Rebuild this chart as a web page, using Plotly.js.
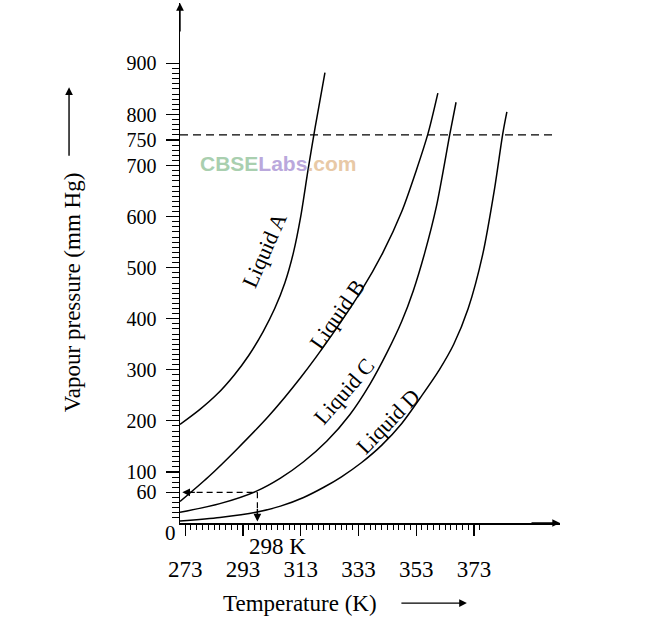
<!DOCTYPE html>
<html><head><meta charset="utf-8">
<script src="https://cdn.plot.ly/plotly-3.0.1.min.js"></script>
<style>html,body{margin:0;padding:0;background:#fff}#chart{width:666px;height:623px}</style>
</head><body><div id="chart"></div>
<script>
// Data
const tempA  = [271.2, 278, 284, 290, 295, 300, 304, 307.5, 310.5, 313, 315.5, 318, 321.4];
const pressA = [193, 222, 252, 290, 328, 375, 420, 470, 530, 600, 690, 775, 882];
const tempB  = [271.2, 281, 291, 302, 313, 324, 334, 341.5, 348, 353, 357.1, 360.5];
const pressB = [42, 90, 145, 210, 285, 370, 455, 530, 610, 690, 763, 842];
const tempC  = [271.2, 285, 297.5, 306, 314, 322, 330, 337, 343, 348, 352, 356, 360, 364.7, 366.8];
const pressC = [21, 38, 62, 88, 120, 160, 212, 272, 335, 395, 455, 530, 620, 763, 824];
const tempD  = [271.2, 285, 297.5, 306, 314, 321, 327, 334, 341, 348, 355, 361, 366, 371, 376, 380, 383, 384.4];
const pressD = [4, 11, 21, 33, 50, 70, 90, 118, 152, 195, 250, 300, 350, 420, 525, 650, 763, 805];

const liquidNames = ['Liquid A', 'Liquid B', 'Liquid C', 'Liquid D'];
const labelTemp   = [300.6, 325.6, 328.0, 343.2];
const labelPress  = [535, 408, 257, 199];
const labelAngle  = [-66, -55, -49, -46];

const yTickVals = [60, 100, 200, 300, 400, 500, 600, 700, 750, 800, 900];
const xTickVals = [273, 293, 313, 333, 353, 373];
const atmPressure = 760;
const markTemp = 298;
const markPress = 60;

const xRange = [271.2, 402.8];
const yRange = [0, 1018.4];

const serif = 'Liberation Serif, Times New Roman, serif';

const yMinor = [];
for (let v = 10; v <= 900; v += 10) if (v % 100 !== 0) yMinor.push(v);
const xMinor = [];
for (let v = 273; v <= 375; v += 2) if ((v - 273) % 20 !== 0) xMinor.push(v);

const lineStyle = {color: '#000', width: 1.5, shape: 'spline', smoothing: 0.8};
const series = [[tempA, pressA], [tempB, pressB], [tempC, pressC], [tempD, pressD]];
const traces = series.map((s, i) => ({
  x: s[0], y: s[1], type: 'scatter', mode: 'lines', name: liquidNames[i],
  line: lineStyle, hoverinfo: 'skip'
}));

const annotations = liquidNames.map((n, i) => ({
  x: labelTemp[i], y: labelPress[i], xref: 'x', yref: 'y', text: n,
  xanchor: 'center', yanchor: 'middle',
  showarrow: false, textangle: labelAngle[i],
  font: {family: serif, size: 22, color: '#000'}
}));

function arrow(x, y, ax, ay, xref, yref) {
  return {x: x, y: y, xref: xref, yref: yref, ax: ax, ay: ay, text: '',
    showarrow: true, arrowhead: 2, arrowsize: 1.1, arrowwidth: 1.4,
    arrowcolor: '#000', standoff: 0, startstandoff: 0};
}
function label(x, y, xref, yref, text, size, angle) {
  return {x: x, y: y, xref: xref, yref: yref, text: text, showarrow: false,
    xanchor: 'center', yanchor: 'middle', textangle: angle || 0,
    font: {family: serif, size: size, color: '#000'}};
}
// axis arrows
annotations.push(arrow(0, 1, 0, 30, 'paper', 'paper'));
annotations.push(arrow(1, 0, -30, 0, 'paper', 'paper'));
// 298 K / 60 mm Hg marker arrows
annotations.push(arrow(272.0, markPress, 14, 0, 'x', 'y'));
annotations.push(arrow(markTemp, 3, 0, -14, 'x', 'y'));
// axis title arrows
annotations.push(arrow(0.755, -0.154, -67, 0, 'paper', 'paper'));
annotations.push(arrow(-0.292, 0.838, 0, 70, 'paper', 'paper'));

annotations.push(label(305.1, -0.046, 'x', 'paper', markTemp + ' K', 23));
annotations.push(label(-0.024, -0.019, 'paper', 'paper', '0', 21));
annotations.push(label(0.316, -0.154, 'paper', 'paper', 'Temperature (K)', 23));
annotations.push(label(-0.284, 0.444, 'paper', 'paper', 'Vapour pressure (mm Hg)', 23, -90));
annotations.push({x: 0.258, y: 0.692, xref: 'paper', yref: 'paper', xanchor: 'center', yanchor: 'middle',
  text: '<b><span style="color:#a9cfaf">CBSE</span><span style="color:#baa8dc">Labs</span><span style="color:#e8c9a6">.com</span></b>',
  showarrow: false, font: {family: 'Liberation Sans, Arial, sans-serif', size: 21}});

const shapes = [
  {type: 'line', xref: 'x', yref: 'y', x0: xRange[0], x1: 401.7, y0: atmPressure, y1: atmPressure,
   line: {color: '#000', width: 1.3, dash: '8px,5px'}},
  {type: 'line', xref: 'x', yref: 'y', x0: 273.5, x1: markTemp, y0: markPress, y1: markPress,
   line: {color: '#000', width: 1.2, dash: '6px,4px'}},
  {type: 'line', xref: 'x', yref: 'y', x0: markTemp, x1: markTemp, y0: markPress, y1: 6,
   line: {color: '#000', width: 1.2, dash: '6px,4px'}}
];

const layout = {
  width: 666, height: 623,
  margin: {l: 180, r: 106, t: 3, b: 100},
  paper_bgcolor: '#fff', plot_bgcolor: '#fff',
  showlegend: false,
  font: {family: serif, color: '#000'},
  xaxis: {
    range: xRange, showgrid: false, zeroline: false,
    showline: true, linecolor: '#000', linewidth: 1.5,
    tickmode: 'array', tickvals: xTickVals, ticktext: xTickVals.map(String),
    ticks: 'outside', ticklen: 11, tickwidth: 1.2, tickcolor: '#000',
    ticklabelstandoff: 14,
    tickfont: {family: serif, size: 23, color: '#000'},
    minor: {tickmode: 'array', tickvals: xMinor, ticks: 'outside', ticklen: 5, tickwidth: 1, tickcolor: '#000', showgrid: false}
  },
  yaxis: {
    range: yRange, showgrid: false, zeroline: false,
    showline: true, linecolor: '#000', linewidth: 1.5,
    tickmode: 'array', tickvals: yTickVals, ticktext: yTickVals.map(String),
    ticks: 'outside', ticklen: 13, tickwidth: 1.2, tickcolor: '#000',
    ticklabelstandoff: 5,
    tickfont: {family: serif, size: 20, color: '#000'},
    minor: {tickmode: 'array', tickvals: yMinor, ticks: 'outside', ticklen: 7, tickwidth: 1, tickcolor: '#000', showgrid: false}
  },
  shapes: shapes,
  annotations: annotations
};

Plotly.newPlot('chart', traces, layout, {staticPlot: true, displayModeBar: false});
</script></body></html>
